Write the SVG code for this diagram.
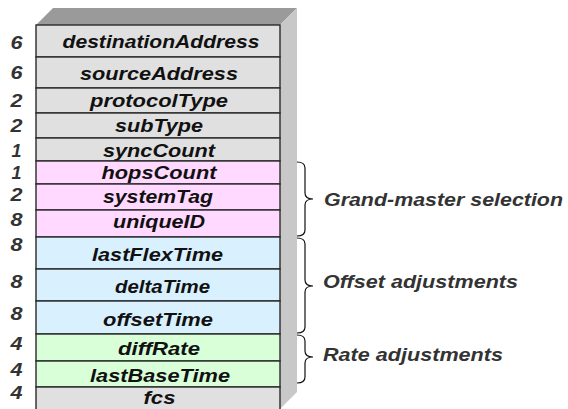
<svg xmlns="http://www.w3.org/2000/svg" width="568" height="409" viewBox="0 0 568 409">
<style>
.row{stroke:#2a2a2a;stroke-width:1.4}
.g{fill:#e0e0e0}.p{fill:#ffd9ff}.b{fill:#d9f0ff}.gr{fill:#d9ffd9}
.lbl{font-family:"Liberation Sans",Arial,sans-serif;font-weight:bold;font-style:italic;font-size:18.5px;fill:#111;text-anchor:middle}
.num{font-family:"Liberation Sans",Arial,sans-serif;font-weight:bold;font-style:italic;font-size:18.5px;fill:#333;text-anchor:middle}
.grp{font-family:"Liberation Sans",Arial,sans-serif;font-weight:bold;font-style:italic;font-size:18px;fill:#333}
.brace{fill:none;stroke:#111;stroke-width:1.2}
</style>
<rect width="568" height="409" fill="#ffffff"/>
<g id="box3d">
<polygon points="36,25 53,8 297,8 280,25" fill="#9a9a9a"/>
<polygon points="280,25 297,8 297,392 280,409" fill="#c8c8c8"/>
</g>
<g id="destinationAddress"><rect class="row g" x="36" y="25" width="244" height="32"/><text class="num" x="16.5" y="48.5" textLength="12" lengthAdjust="spacingAndGlyphs">6</text><text class="lbl" x="161" y="48" textLength="197" lengthAdjust="spacingAndGlyphs">destinationAddress</text></g>
<g id="sourceAddress"><rect class="row g" x="36" y="57" width="244" height="31"/><text class="num" x="16.5" y="78.5" textLength="12" lengthAdjust="spacingAndGlyphs">6</text><text class="lbl" x="159" y="79.5" textLength="158" lengthAdjust="spacingAndGlyphs">sourceAddress</text></g>
<g id="protocolType"><rect class="row g" x="36" y="88" width="244" height="25"/><text class="num" x="16.5" y="106.5" textLength="12" lengthAdjust="spacingAndGlyphs">2</text><text class="lbl" x="159" y="107" textLength="138" lengthAdjust="spacingAndGlyphs">protocolType</text></g>
<g id="subType"><rect class="row g" x="36" y="113" width="244" height="25"/><text class="num" x="16.5" y="131.5" textLength="12" lengthAdjust="spacingAndGlyphs">2</text><text class="lbl" x="159" y="132" textLength="88" lengthAdjust="spacingAndGlyphs">subType</text></g>
<g id="syncCount"><rect class="row g" x="36" y="138" width="244" height="23"/><text class="num" x="16.5" y="156.5" textLength="10" lengthAdjust="spacingAndGlyphs">1</text><text class="lbl" x="159" y="156.5" textLength="112" lengthAdjust="spacingAndGlyphs">syncCount</text></g>
<g id="hopsCount"><rect class="row p" x="36" y="161" width="244" height="23"/><text class="num" x="16.5" y="178.5" textLength="10" lengthAdjust="spacingAndGlyphs">1</text><text class="lbl" x="159" y="179" textLength="115" lengthAdjust="spacingAndGlyphs">hopsCount</text></g>
<g id="systemTag"><rect class="row p" x="36" y="184" width="244" height="26"/><text class="num" x="16.5" y="200.5" textLength="12" lengthAdjust="spacingAndGlyphs">2</text><text class="lbl" x="158" y="203" textLength="110" lengthAdjust="spacingAndGlyphs">systemTag</text></g>
<g id="uniqueID"><rect class="row p" x="36" y="210" width="244" height="27"/><text class="num" x="16.5" y="225.5" textLength="12" lengthAdjust="spacingAndGlyphs">8</text><text class="lbl" x="159" y="228" textLength="92" lengthAdjust="spacingAndGlyphs">uniqueID</text></g>
<g id="lastFlexTime"><rect class="row b" x="36" y="237" width="244" height="32"/><text class="num" x="16.5" y="250.5" textLength="12" lengthAdjust="spacingAndGlyphs">8</text><text class="lbl" x="157.5" y="261" textLength="131" lengthAdjust="spacingAndGlyphs">lastFlexTime</text></g>
<g id="deltaTime"><rect class="row b" x="36" y="269" width="244" height="32"/><text class="num" x="16.5" y="287.5" textLength="12" lengthAdjust="spacingAndGlyphs">8</text><text class="lbl" x="162.5" y="293" textLength="95" lengthAdjust="spacingAndGlyphs">deltaTime</text></g>
<g id="offsetTime"><rect class="row b" x="36" y="301" width="244" height="33"/><text class="num" x="16.5" y="319.5" textLength="12" lengthAdjust="spacingAndGlyphs">8</text><text class="lbl" x="158" y="326" textLength="110" lengthAdjust="spacingAndGlyphs">offsetTime</text></g>
<g id="diffRate"><rect class="row gr" x="36" y="334" width="244" height="27"/><text class="num" x="16.5" y="349.5" textLength="12" lengthAdjust="spacingAndGlyphs">4</text><text class="lbl" x="159" y="354.5" textLength="82" lengthAdjust="spacingAndGlyphs">diffRate</text></g>
<g id="lastBaseTime"><rect class="row gr" x="36" y="361" width="244" height="26"/><text class="num" x="16.5" y="375.5" textLength="12" lengthAdjust="spacingAndGlyphs">4</text><text class="lbl" x="160" y="381.5" textLength="140" lengthAdjust="spacingAndGlyphs">lastBaseTime</text></g>
<g id="fcs"><rect class="row g" x="36" y="387" width="244" height="24"/><text class="num" x="16.5" y="398.5" textLength="12" lengthAdjust="spacingAndGlyphs">4</text><text class="lbl" x="159.5" y="403.5" textLength="32" lengthAdjust="spacingAndGlyphs">fcs</text></g>
<g id="connectors">
<path class="brace" d="M297,162 Q305,162 305,168 L305,193 Q305,199 313,199 Q305,199 305,205 L305,230 Q305,236 297,236"/>
<path class="brace" d="M297,238 Q305,238 305,244 L305,280 Q305,286 313,286 Q305,286 305,292 L305,327 Q305,333 297,333"/>
<path class="brace" d="M297,335 Q305,335 305,341 L305,351 Q305,357 313,357 Q305,357 305,363 L305,377 Q305,383 297,383"/>
</g>
<g id="groupLabels">
<text class="grp" x="324" y="206" textLength="239" lengthAdjust="spacingAndGlyphs">Grand-master selection</text>
<text class="grp" x="323" y="288" textLength="195" lengthAdjust="spacingAndGlyphs">Offset adjustments</text>
<text class="grp" x="323" y="361" textLength="180" lengthAdjust="spacingAndGlyphs">Rate adjustments</text>
</g>
</svg>
